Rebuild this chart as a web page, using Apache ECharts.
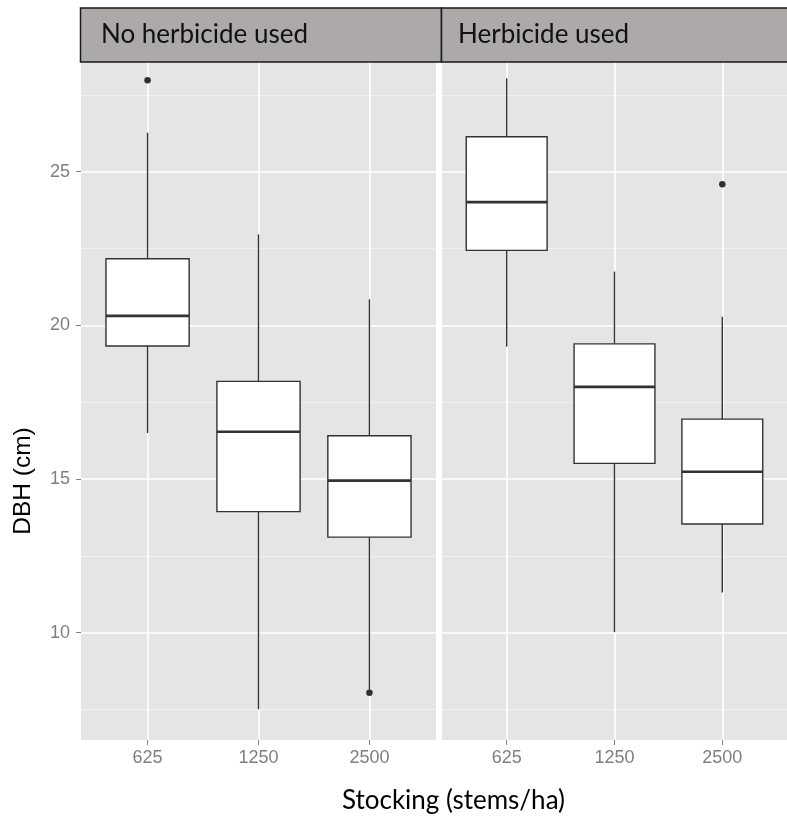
<!DOCTYPE html>
<html>
<head>
<meta charset="utf-8">
<script src="https://cdn.jsdelivr.net/npm/echarts@6/dist/echarts.min.js"></script>
<style>
  html, body { margin: 0; padding: 0; background: #fff; }
  #chart { width: 787px; height: 823px; }
</style>
</head>
<body>
<div id="chart"></div>
<script>
// Stocking levels (x categories) and facet titles
const stocking = ['625', '1250', '2500'];
const panelTitles = ['No herbicide used', 'Herbicide used'];

// Box summaries per stocking level: [lower whisker, Q1, median, Q3, upper whisker]
const noHerbicideBoxes = [
  [16.50, 19.33, 20.31, 22.17, 26.27],
  [7.51, 13.94, 16.54, 18.18, 22.96],
  [8.15, 13.11, 14.95, 16.41, 20.85]
];
const herbicideBoxes = [
  [19.31, 22.44, 24.01, 26.14, 28.04],
  [10.02, 15.51, 18.00, 19.40, 21.75],
  [11.31, 13.54, 15.24, 16.95, 20.28]
];

// Outlying trees: [stocking index (1-based), DBH]
const noHerbicideOutliers = [[1, 27.98], [3, 8.05]];
const herbicideOutliers = [[3, 24.59]];

// Axis ticks
const yMajorTicks = [10, 15, 20, 25];
const yMinorTicks = [7.5, 12.5, 17.5, 22.5, 27.5];
const xTicks = [1, 2, 3];

const Y_MIN = 6.51, Y_MAX = 28.57;
const X_MIN = 0.4, X_MAX = 3.6;
const BOX_HALF = 0.375;
const PANEL_BG = '#E5E5E5';
const LINE_COL = '#333333';
const TICK_COL = '#7F7F7F';

function boxRows(boxes) {
  return boxes.map((b, i) => [i + 1].concat(b));
}

function renderBox(params, api) {
  const x = api.value(0);
  const lo = api.value(1), q1 = api.value(2), med = api.value(3), q3 = api.value(4), hi = api.value(5);
  const pHi = api.coord([x, hi]);
  const pLo = api.coord([x, lo]);
  const tl = api.coord([x - BOX_HALF, q3]);
  const br = api.coord([x + BOX_HALF, q1]);
  const pMedL = api.coord([x - BOX_HALF, med]);
  const pMedR = api.coord([x + BOX_HALF, med]);
  const cx = pHi[0];
  const lineStyle = { stroke: LINE_COL, lineWidth: 1.4 };
  return {
    type: 'group',
    children: [
      { type: 'line', shape: { x1: cx, y1: pHi[1], x2: cx, y2: tl[1] }, style: lineStyle },
      { type: 'line', shape: { x1: cx, y1: br[1], x2: cx, y2: pLo[1] }, style: lineStyle },
      { type: 'rect', shape: { x: tl[0], y: tl[1], width: br[0] - tl[0], height: br[1] - tl[1] },
        style: { fill: '#FFFFFF', stroke: LINE_COL, lineWidth: 1.4 } },
      { type: 'line', shape: { x1: pMedL[0], y1: pMedL[1], x2: pMedR[0], y2: pMedR[1] },
        style: { stroke: LINE_COL, lineWidth: 2.6 } }
    ]
  };
}

function xAxisFor(gridIndex) {
  return {
    type: 'value', gridIndex: gridIndex, min: X_MIN, max: X_MAX,
    axisLine: { show: false },
    axisTick: { show: true, customValues: xTicks, length: 5, lineStyle: { color: TICK_COL, width: 1 } },
    axisLabel: {
      show: true, customValues: xTicks, margin: 9,
      formatter: v => stocking[Math.round(v) - 1],
      color: TICK_COL, fontFamily: 'Liberation Sans, Arial, sans-serif', fontSize: 18
    },
    splitLine: { show: true, lineStyle: { color: '#FFFFFF', width: 1.6 } }
  };
}

function yMajorFor(gridIndex, withLabels) {
  return {
    type: 'value', gridIndex: gridIndex, min: Y_MIN, max: Y_MAX, position: 'left',
    axisLine: { show: false },
    axisTick: { show: withLabels, customValues: yMajorTicks, length: 5, lineStyle: { color: TICK_COL, width: 1 } },
    axisLabel: {
      show: withLabels, customValues: yMajorTicks, margin: 11,
      color: TICK_COL, fontFamily: 'Liberation Sans, Arial, sans-serif', fontSize: 18
    },
    splitLine: { show: true, lineStyle: { color: '#FFFFFF', width: 1.6 } }
  };
}

function yMinorFor(gridIndex) {
  return {
    type: 'value', gridIndex: gridIndex, min: Y_MIN, max: Y_MAX, position: 'right',
    axisLine: { show: false },
    axisTick: { show: false, customValues: yMinorTicks },
    axisLabel: { show: false, customValues: yMinorTicks },
    splitLine: { show: true, lineStyle: { color: '#F2F2F2', width: 0.9 } }
  };
}

const STRIP_TOP = 8, STRIP_BOTTOM = 62;
const PANEL_L = [81, 442], PANEL_W = 355;

function stripGraphic(i, x0, x1, textX) {
  return [
    { type: 'rect', z: 10,
      shape: { x: x0, y: STRIP_TOP, width: x1 - x0, height: STRIP_BOTTOM - STRIP_TOP },
      style: { fill: '#ADA9A8', stroke: '#1A1A1A', lineWidth: 1.5 } },
    { type: 'text', z: 11, x: textX, y: 35,
      style: { text: panelTitles[i], fill: '#111111', font: '26px Lato, sans-serif',
               textAlign: 'left', textVerticalAlign: 'middle' } }
  ];
}

const chart = echarts.init(document.getElementById('chart'), null, { renderer: 'canvas' });
chart.setOption({
  backgroundColor: '#FFFFFF',
  animation: false,
  grid: [
    { left: PANEL_L[0], top: STRIP_BOTTOM, width: PANEL_W, bottom: 823 - 740,
      show: true, backgroundColor: PANEL_BG, borderWidth: 0 },
    { left: PANEL_L[1], top: STRIP_BOTTOM, width: PANEL_W, bottom: 823 - 740,
      show: true, backgroundColor: PANEL_BG, borderWidth: 0 }
  ],
  xAxis: [xAxisFor(0), xAxisFor(1)],
  yAxis: [yMajorFor(0, true), yMinorFor(0), yMajorFor(1, false), yMinorFor(1)],
  series: [
    { type: 'custom', name: panelTitles[0], xAxisIndex: 0, yAxisIndex: 0,
      renderItem: renderBox, encode: { x: 0, y: [1, 2, 3, 4, 5] },
      data: boxRows(noHerbicideBoxes), z: 3 },
    { type: 'custom', name: panelTitles[1], xAxisIndex: 1, yAxisIndex: 2,
      renderItem: renderBox, encode: { x: 0, y: [1, 2, 3, 4, 5] },
      data: boxRows(herbicideBoxes), z: 3 },
    { type: 'scatter', xAxisIndex: 0, yAxisIndex: 0, data: noHerbicideOutliers,
      symbol: 'circle', symbolSize: 6.5, itemStyle: { color: '#000000' }, z: 4 },
    { type: 'scatter', xAxisIndex: 1, yAxisIndex: 2, data: herbicideOutliers,
      symbol: 'circle', symbolSize: 6.5, itemStyle: { color: '#000000' }, z: 4 }
  ],
  graphic: [
    ...stripGraphic(0, 80.5, 441.5, 101),
    ...stripGraphic(1, 441.5, 800, 458),
    { type: 'text', x: 23, y: 481, rotation: Math.PI / 2,
      style: { text: 'DBH (cm)', fill: '#000000', font: '24.5px "Liberation Sans", Arial, sans-serif',
               textAlign: 'center', textVerticalAlign: 'middle' } },
    { type: 'text', x: 453.5, y: 801,
      style: { text: 'Stocking (stems/ha)', fill: '#000000', font: '26px Lato, sans-serif',
               textAlign: 'center', textVerticalAlign: 'middle' } }
  ]
});
</script>
</body>
</html>
